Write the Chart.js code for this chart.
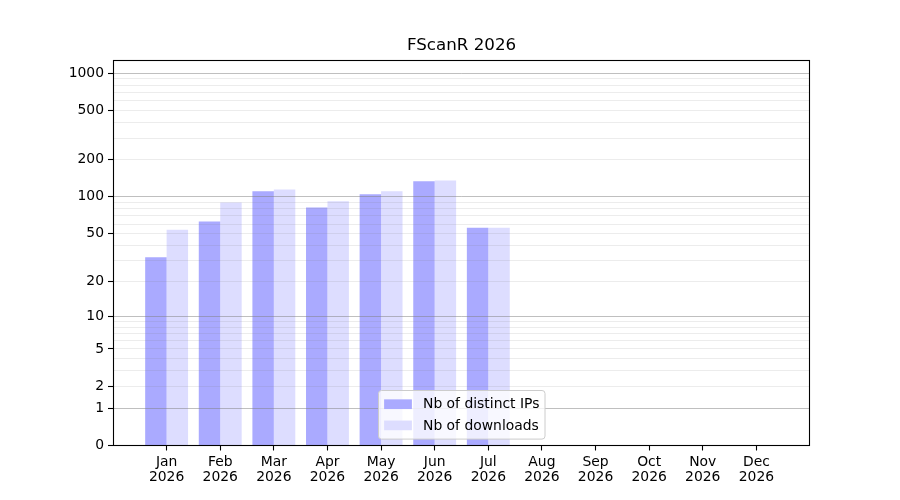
<!DOCTYPE html>
<html>
<head>
<meta charset="utf-8">
<title>FScanR 2026</title>
<script src="https://cdn.jsdelivr.net/npm/chart.js@4.4.1/dist/chart.umd.min.js"></script>
<style>
  html, body { margin: 0; padding: 0; background: #fff; }
  #wrap { width: 900px; height: 500px; }
</style>
</head>
<body>
<div id="wrap"><canvas id="chart" width="900" height="500"></canvas></div>
<script>
const categories = ['Jan 2026', 'Feb 2026', 'Mar 2026', 'Apr 2026', 'May 2026', 'Jun 2026',
  'Jul 2026', 'Aug 2026', 'Sep 2026', 'Oct 2026', 'Nov 2026', 'Dec 2026'];
const distinctIps = [32, 63, 111, 82, 105, 134, 56, 0, 0, 0, 0, 0];
const downloads = [54, 90, 115, 92, 111, 136, 56, 0, 0, 0, 0, 0];
const yMajorTicks = [0, 1, 2, 5, 10, 20, 50, 100, 200, 500, 1000];
const yMinorTicks = [3, 4, 6, 7, 8, 9, 30, 40, 60, 70, 80, 90, 300, 400, 600, 700, 800, 900];
const yDecades = [1, 10, 100, 1000];
const yTop = 1280;

const FONT = 'DejaVu Sans';
const TICK_SIZE = 13.9;

// y axis is log10(v + 1), so empty months still sit on the axis
function toAxis(v) {
  return Math.log10(v + 1);
}

function toPoints(values) {
  return values.map((v, i) => ({x: i, y: toAxis(v)}));
}

const framePlugin = {
  id: 'frame',
  afterDraw(chart) {
    const {ctx, chartArea: a} = chart;
    const l = Math.round(a.left) + 0.5, t = Math.round(a.top) + 0.5;
    const r = Math.round(a.right) - 0.5, b = Math.floor(a.bottom) + 0.5;
    ctx.save();
    ctx.strokeStyle = '#000';
    ctx.lineWidth = 1.1;
    ctx.strokeRect(l, t, r - l, b - t);
    ctx.restore();
  }
};

// matplotlib-like legend, 'lower center' inside the axes
const boxLegendPlugin = {
  id: 'boxLegend',
  afterDraw(chart) {
    const {ctx, chartArea: a} = chart;
    const sets = chart.data.datasets;
    const pad = 5.6, handle = 27.8, gap = 11.1, rowH = 14.2, spacing = 7;

    ctx.save();
    ctx.font = `${TICK_SIZE}px "${FONT}"`;
    const textW = Math.max(...sets.map(ds => ctx.measureText(ds.label).width));
    const w = pad + handle + gap + textW + pad;
    const h = pad * 2 + rowH * sets.length + spacing * (sets.length - 1) + 2;
    const x = Math.round((a.left + a.right) / 2 - w / 2) + 0.5;
    const y = Math.round(a.bottom - 7 - h) + 0.5;

    ctx.beginPath();
    ctx.roundRect(x, y, w, h, 3);
    ctx.fillStyle = 'rgba(255,255,255,0.8)';
    ctx.fill();
    ctx.strokeStyle = '#cccccc';
    ctx.lineWidth = 1;
    ctx.stroke();

    ctx.textBaseline = 'middle';
    ctx.textAlign = 'left';
    sets.forEach((ds, i) => {
      const cy = y + pad + 1 + rowH / 2 + i * (rowH + spacing);
      ctx.fillStyle = ds.backgroundColor;
      ctx.fillRect(x + pad, cy - 4.85, handle, 9.7);
      ctx.fillStyle = '#000';
      ctx.fillText(ds.label, x + pad + handle + gap, cy + 0.5);
    });
    ctx.restore();
  }
};

new Chart(document.getElementById('chart').getContext('2d'), {
  type: 'bar',
  data: {
    datasets: [{
      label: 'Nb of distinct IPs',
      data: toPoints(distinctIps),
      backgroundColor: '#aaaaff',
      borderWidth: 0,
      barPercentage: 1,
      categoryPercentage: 0.8
    }, {
      label: 'Nb of downloads',
      data: toPoints(downloads),
      backgroundColor: '#ddddff',
      borderWidth: 0,
      barPercentage: 1,
      categoryPercentage: 0.8
    }]
  },
  plugins: [framePlugin, boxLegendPlugin],
  options: {
    responsive: false,
    animation: false,
    devicePixelRatio: 1,
    layout: {
      padding: {left: 0, right: 90, top: 0, bottom: 0}
    },
    scales: {
      x: {
        type: 'linear',
        min: -1,
        max: 12,
        offset: false,
        afterBuildTicks: scale => {
          scale.ticks = categories.map((c, i) => ({value: i}));
        },
        afterFit: scale => {
          scale.height = 54.5;
        },
        border: { display: false },
        grid: {
          offset: false,
          drawOnChartArea: false,
          drawTicks: true,
          tickLength: 5,
          tickColor: '#000',
          tickWidth: 1.1
        },
        ticks: {
          autoSkip: false,
          maxRotation: 0,
          padding: 4,
          color: '#000',
          font: {family: FONT, size: TICK_SIZE, lineHeight: 1.1},
          callback: value => categories[value].split(' ')
        }
      },
      y: {
        type: 'linear',
        min: 0,
        max: toAxis(yTop),
        afterBuildTicks: scale => {
          const majors = yMajorTicks.map(v => ({value: toAxis(v), raw: v, minor: false}));
          const minors = yMinorTicks.map(v => ({value: toAxis(v), raw: v, minor: true}));
          scale.ticks = majors.concat(minors).sort((p, q) => p.value - q.value);
        },
        afterFit: scale => {
          scale.width = 113;
        },
        border: { display: false },
        grid: {
          z: 1,
          drawTicks: true,
          tickLength: 5,
          tickWidth: 1.1,
          lineWidth: 1,
          color: ctx => ctx.tick && yDecades.includes(ctx.tick.raw)
            ? 'rgba(128,128,128,0.5)' : 'rgba(128,128,128,0.15)',
          tickColor: ctx => ctx.tick && ctx.tick.minor ? 'rgba(0,0,0,0)' : '#000'
        },
        ticks: {
          autoSkip: false,
          padding: 4,
          color: '#000',
          font: {family: FONT, size: TICK_SIZE},
          callback: (value, index, ticks) => ticks[index].minor ? '' : String(ticks[index].raw)
        }
      }
    },
    plugins: {
      legend: { display: false },
      tooltip: { enabled: false },
      title: {
        display: true,
        text: 'FScanR 2026',
        fullSize: false,
        color: '#000',
        font: {family: FONT, size: 16.7, weight: 'normal', lineHeight: 1.2},
        padding: {top: 36, bottom: 4}
      }
    }
  }
});
</script>
</body>
</html>
